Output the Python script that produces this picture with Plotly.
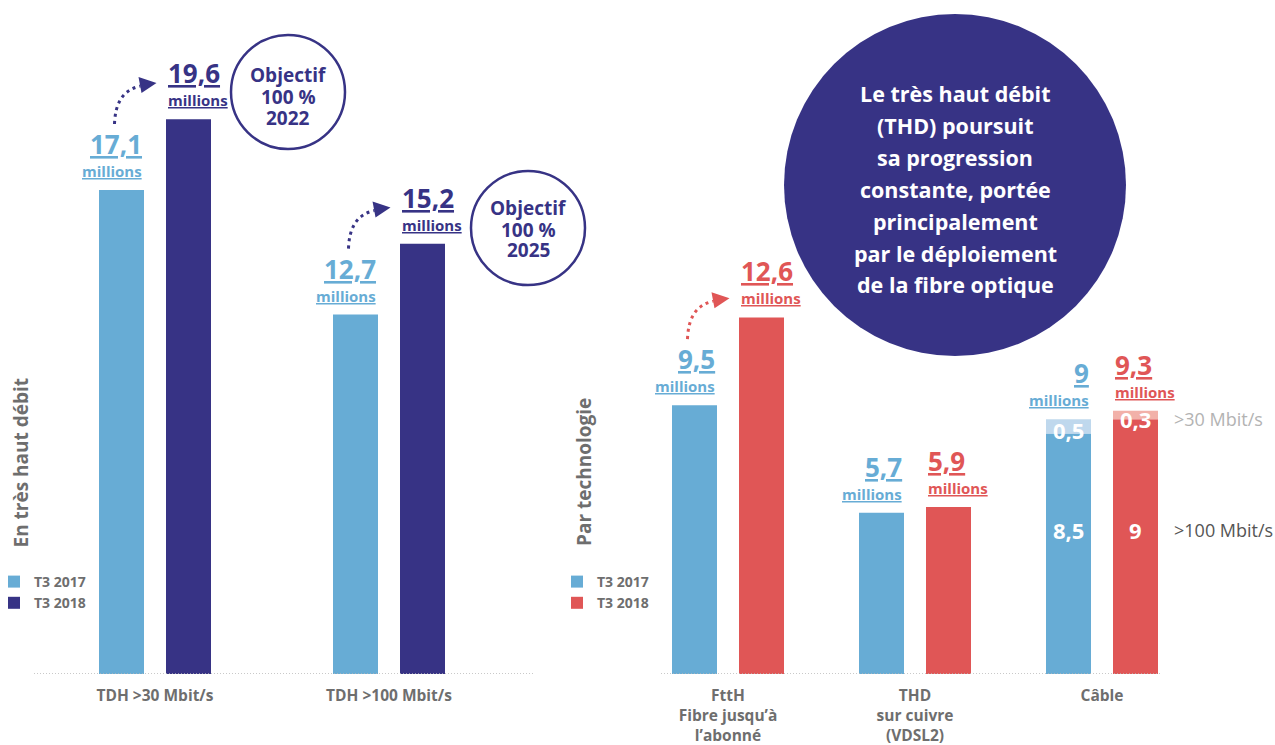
import plotly.graph_objects as go

W, H = 1275, 745

# ---------------- data ----------------
series_names = ["T3 2017", "T3 2018"]

thd_categories = ["TDH >30 Mbit/s", "TDH >100 Mbit/s"]
thd_2017 = [17.1, 12.7]
thd_2018 = [19.6, 15.2]
thd_targets = ["2022", "2025"]

tech_categories = ["FttH<br>Fibre jusqu’à<br>l’abonné", "THD<br>sur cuivre<br>(VDSL2)", "Câble"]
tech_2017_main = [9.5, 5.7, 8.5]
tech_2017_extra = [0, 0, 0.5]
tech_2018_main = [12.6, 5.9, 9.0]
tech_2018_extra = [0, 0, 0.3]
speed_labels = [">30 Mbit/s", ">100 Mbit/s"]

message_lines = ["Le très haut débit", "(THD) poursuit", "sa progression",
                 "constante, portée", "principalement", "par le déploiement",
                 "de la fibre optique"]

# ---------------- style ----------------
LIGHT = "#67acd5"
NAVY = "#373385"
RED = "#e05656"
PALE_BLUE = "#bfd8ed"
PALE_RED = "#f2b1a9"
GRAY = "#6e6e6e"
FONT = "Open Sans"

BASE_PX = 674            # baseline pixel row
PX_PER_UNIT = 28.3
Y_MAX = BASE_PX / PX_PER_UNIT
Y_DOMAIN = [(H - BASE_PX) / H, 1]

# left panel geometry (pixels)
L_DOM = (34, 533); L_C0 = 155; L_STEP = 234
# right panel geometry
R_DOM = (661, 1162); R_C0 = 728; R_STEP = 187
BAR_PX = 45


def fr(v):
    s = f"{v:.1f}"
    if s.endswith(".0"):
        s = s[:-2]
    return s.replace(".", ",")


fig = go.Figure()

# left panel bars
l_off_a, l_off_b, l_w = -56 / L_STEP, 11 / L_STEP, BAR_PX / L_STEP
lx = list(range(len(thd_categories)))
fig.add_trace(go.Bar(x=lx, y=thd_2017, name=series_names[0], legendgroup="a",
                     offset=l_off_a, width=l_w, marker=dict(color=LIGHT, line=dict(width=0)),
                     xaxis="x", yaxis="y", legend="legend"))
fig.add_trace(go.Bar(x=lx, y=thd_2018, name=series_names[1], legendgroup="b",
                     offset=l_off_b, width=l_w, marker=dict(color=NAVY, line=dict(width=0)),
                     xaxis="x", yaxis="y", legend="legend"))

# right panel bars
r_off_a, r_off_b, r_w = -56 / R_STEP, 11 / R_STEP, BAR_PX / R_STEP
rx = list(range(len(tech_categories)))
fig.add_trace(go.Bar(x=rx, y=tech_2017_main, name=series_names[0], legendgroup="c",
                     offset=r_off_a, width=r_w,
                     marker=dict(color=LIGHT, line=dict(width=0)), xaxis="x2", yaxis="y2",
                     legend="legend2"))
fig.add_trace(go.Bar(x=rx, y=tech_2017_extra, base=tech_2017_main, offset=r_off_a, width=r_w,
                     marker=dict(color=PALE_BLUE, line=dict(width=0)), xaxis="x2", yaxis="y2",
                     showlegend=False))
fig.add_trace(go.Bar(x=rx, y=tech_2018_main, name=series_names[1], legendgroup="d",
                     offset=r_off_b, width=r_w,
                     marker=dict(color=RED, line=dict(width=0)), xaxis="x2", yaxis="y2",
                     legend="legend2"))
fig.add_trace(go.Bar(x=rx, y=tech_2018_extra, base=tech_2018_main, offset=r_off_b, width=r_w,
                     marker=dict(color=PALE_RED, line=dict(width=0)), xaxis="x2", yaxis="y2",
                     showlegend=False))

annotations = []
shapes = []

UL = "text-decoration:underline;text-underline-offset:5px;text-decoration-thickness:2px"


def value_label(xref, yref, x_edge, value, color, side):
    anchor = "right" if side == "right" else "left"
    annotations.append(dict(x=x_edge, y=value, xref=xref, yref=yref, xanchor=anchor,
                            yanchor="middle", yshift=46, showarrow=False,
                            text=f"<span style='{UL}'>{fr(value)}</span>",
                            font=dict(family=FONT, size=26, color=color, weight="bold")))
    annotations.append(dict(x=x_edge, y=value, xref=xref, yref=yref, xanchor=anchor,
                            yanchor="middle", yshift=19, showarrow=False,
                            text=f"<span style='{UL}'>millions</span>",
                            font=dict(family=FONT, size=15, color=color, weight="bold")))


def curved_arrow(xref, yref, x, y, color):
    shapes.append(dict(type="path", xref=xref, yref=yref, xsizemode="pixel", ysizemode="pixel",
                       xanchor=x, yanchor=y, path="M -7,66 Q -6,99 19,104",
                       line=dict(color=color, width=3, dash="3px,4px")))
    shapes.append(dict(type="path", xref=xref, yref=yref, xsizemode="pixel", ysizemode="pixel",
                       xanchor=x, yanchor=y, path="M 35,107 L 17,113 L 20,97 Z",
                       fillcolor=color, line=dict(width=0)))


for i in range(len(thd_categories)):
    value_label("x", "y", i + l_off_a + l_w, thd_2017[i], LIGHT, "right")
    value_label("x", "y", i + l_off_b, thd_2018[i], NAVY, "left")
    curved_arrow("x", "y", i + l_off_a + l_w / 2, thd_2017[i], NAVY)

for i in range(len(tech_categories)):
    t17 = tech_2017_main[i] + tech_2017_extra[i]
    t18 = tech_2018_main[i] + tech_2018_extra[i]
    value_label("x2", "y2", i + r_off_a + r_w, t17, LIGHT, "right")
    value_label("x2", "y2", i + r_off_b, t18, RED, "left")
    if i == 0:
        curved_arrow("x2", "y2", i + r_off_a + r_w / 2, t17, RED)
    for main, extra, off in ((tech_2017_main[i], tech_2017_extra[i], r_off_a),
                             (tech_2018_main[i], tech_2018_extra[i], r_off_b)):
        if extra > 0:
            xc = i + off + r_w / 2
            annotations.append(dict(x=xc, y=main + extra / 2, xref="x2", yref="y2", yshift=-4,
                                    xanchor="center", yanchor="middle",
                                    showarrow=False, text=fr(extra),
                                    font=dict(family=FONT, size=22, color="white", weight="bold")))
            annotations.append(dict(x=xc, y=1 - 530 / H, xref="x2", yref="paper",
                                    xanchor="center", yanchor="middle",
                                    showarrow=False, text=fr(main),
                                    font=dict(family=FONT, size=22, color="white", weight="bold")))

# speed labels at right
annotations.append(dict(x=1172 / W, y=1 - 419 / H, xref="paper", yref="paper", xanchor="left",
                        yanchor="middle", showarrow=False, text=speed_labels[0],
                        font=dict(family=FONT, size=18, color="#b3b3b3")))
annotations.append(dict(x=1172 / W, y=1 - 530 / H, xref="paper", yref="paper", xanchor="left",
                        yanchor="middle", showarrow=False, text=speed_labels[1],
                        font=dict(family=FONT, size=18, color="#555555")))


# objective circles
def circle(cx, cy, r, line_color, fill, lw):
    shapes.append(dict(type="circle", xref="paper", yref="paper", xsizemode="pixel",
                       ysizemode="pixel", xanchor=cx / W, yanchor=1 - cy / H,
                       x0=-r, x1=r, y0=-r, y1=r, fillcolor=fill,
                       line=dict(color=line_color, width=lw)))


def text_lines(cx, ys, lines, size, color):
    for yy, t in zip(ys, lines):
        annotations.append(dict(x=cx / W, y=1 - yy / H, xref="paper", yref="paper",
                                xanchor="center", yanchor="middle",
                                showarrow=False, text=t,
                                font=dict(family=FONT, size=size, color=color, weight="bold")))


circle(288, 92, 57, NAVY, "rgba(0,0,0,0)", 2.5)
text_lines(288, [75, 97, 118], ["Objectif", "100 %", thd_targets[0]], 19, NAVY)
circle(528, 228, 57, NAVY, "rgba(0,0,0,0)", 2.5)
text_lines(528, [208, 230, 250], ["Objectif", "100 %", thd_targets[1]], 19, NAVY)

circle(955, 185, 171, NAVY, NAVY, 0)
text_lines(955, [94 + 31.8 * k for k in range(len(message_lines))], message_lines, 21.5, "white")

# vertical titles
annotations.append(dict(x=20.5 / W, y=1 - 463 / H, xref="paper", yref="paper", textangle=-90,
                        xanchor="center", yanchor="middle",
                        showarrow=False, text="En très haut débit",
                        font=dict(family=FONT, size=19, color=GRAY, weight="bold")))
annotations.append(dict(x=584 / W, y=1 - 472 / H, xref="paper", yref="paper", textangle=-90,
                        xanchor="center", yanchor="middle",
                        showarrow=False, text="Par technologie",
                        font=dict(family=FONT, size=19, color=GRAY, weight="bold")))

# dotted baselines
for xr, yr in (("x domain", "y"), ("x2 domain", "y2")):
    shapes.append(dict(type="line", xref=xr, yref=yr, x0=0, x1=1, y0=0, y1=0,
                       line=dict(color="#b8b8b8", width=1.5, dash="1px,2px")))

tickfont = dict(family=FONT, size=15.5, color=GRAY, weight="bold")
legend_common = dict(font=dict(family=FONT, size=14, color=GRAY, weight="bold"),
                     bgcolor="rgba(0,0,0,0)", borderwidth=0, yanchor="top",
                     y=1 - 566 / H, xanchor="left", traceorder="normal", tracegroupgap=7)

fig.update_layout(
    width=W, height=H, margin=dict(l=0, r=0, t=0, b=0, autoexpand=False),
    paper_bgcolor="white", plot_bgcolor="white",
    barmode="overlay", hovermode=False,
    xaxis=dict(domain=[L_DOM[0] / W, L_DOM[1] / W], automargin=False,
               range=[-(L_C0 - L_DOM[0]) / L_STEP,
                      len(thd_categories) - 1 + (L_DOM[1] - (L_C0 + L_STEP * (len(thd_categories) - 1))) / L_STEP],
               tickvals=lx, ticktext=thd_categories,
               showgrid=False, zeroline=False, showline=False, ticks="",
               tickfont=tickfont, ticklabelstandoff=10),
    yaxis=dict(domain=Y_DOMAIN, range=[0, Y_MAX], visible=False, automargin=False),
    xaxis2=dict(domain=[R_DOM[0] / W, R_DOM[1] / W], anchor="y2", automargin=False,
                range=[-(R_C0 - R_DOM[0]) / R_STEP,
                       len(tech_categories) - 1 + (R_DOM[1] - (R_C0 + R_STEP * (len(tech_categories) - 1))) / R_STEP],
                tickvals=rx, ticktext=tech_categories,
                showgrid=False, zeroline=False, showline=False, ticks="",
                tickfont=tickfont, ticklabelstandoff=10),
    yaxis2=dict(domain=Y_DOMAIN, range=[0, Y_MAX], visible=False, anchor="x2", automargin=False),
    legend=dict(x=-6 / W, **legend_common),
    legend2=dict(x=557 / W, **legend_common),
    annotations=annotations, shapes=shapes,
)

fig.write_html("out.html")
